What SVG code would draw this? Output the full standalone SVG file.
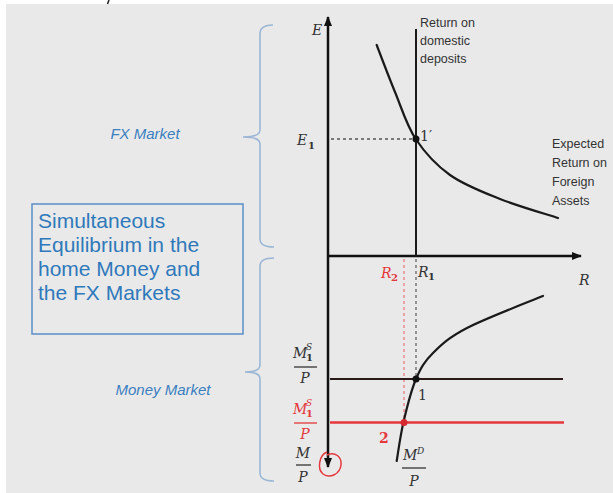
<svg xmlns="http://www.w3.org/2000/svg" width="613" height="493" viewBox="0 0 613 493">
<defs>
<style>
.ax{stroke:#111;stroke-width:2.5;fill:none}
.ln{stroke:#1a1a1a;stroke-width:2;fill:none}
.crv{stroke:#1a1a1a;stroke-width:2.2;fill:none;stroke-linecap:round}
.red{stroke:#e5373c;fill:none}
.brace{stroke:#9cb6d6;stroke-width:1.6;fill:none}
.m{font-family:"DejaVu Serif","Liberation Serif",serif;font-style:italic;fill:#333}
.n{font-family:"DejaVu Serif","Liberation Serif",serif;fill:#333}
.s{font-family:"Liberation Sans","Open Sans",sans-serif;fill:#333;font-size:12.5px}
.bl{font-family:"Liberation Sans","Open Sans",sans-serif;fill:#3a7fc0;font-style:italic;font-size:15px}
.box{font-family:"Liberation Sans","Open Sans",sans-serif;fill:#2f79bb;font-size:21px}
.rt{fill:#e5373c}
</style>
<marker id="ah" viewBox="0 0 10 10" refX="9" refY="5" markerWidth="4" markerHeight="4" orient="auto"><path d="M0,1 L10,5 L0,9 Z" fill="#111"/></marker>
</defs>
<rect x="0" y="0" width="613" height="493" fill="#ffffff"/>
<rect x="6" y="4" width="607" height="489" fill="#e9e9e9"/>
<line x1="109" y1="0" x2="107.5" y2="4" stroke="#222" stroke-width="1.5"/>

<g id="braces">
<path class="brace" d="M273,25 Q260,25 260,34 L260,130 Q260,137 243,137 Q260,137 260,144 L260,239 Q260,247 274,247"/>
<path class="brace" d="M274,258 Q260,258 260,266 L260,365 Q260,372 245,372 Q260,372 260,379 L260,473 Q260,481 274,481"/>
</g>
<g id="fx-label"><text class="bl" x="145" y="139" text-anchor="middle">FX Market</text></g>
<g id="mm-label"><text class="bl" x="163" y="395" text-anchor="middle">Money Market</text></g>

<g id="summary-box">
<rect x="32" y="204" width="211" height="130" fill="none" stroke="#5b8fc7" stroke-width="1.5"/>
<text class="box" x="38" y="228">Simultaneous</text>
<text class="box" x="38" y="252">Equilibrium in the</text>
<text class="box" x="38" y="276">home Money and</text>
<text class="box" x="38" y="300">the FX Markets</text>
</g>

<g id="connectors">
<line class="ax" x1="328" y1="256" x2="328" y2="17" marker-end="url(#ah)"/>
<line class="ax" x1="328" y1="256" x2="328" y2="467" marker-end="url(#ah)"/>
<line class="ax" x1="328" y1="256" x2="581" y2="256" marker-end="url(#ah)"/>
<line class="ln" x1="416" y1="29" x2="416" y2="256"/>
<line x1="331" y1="139" x2="416" y2="139" stroke="#555" stroke-width="1.3" stroke-dasharray="3,3"/>
<line x1="416" y1="259" x2="416" y2="379" stroke="#666" stroke-width="1.3" stroke-dasharray="3,3"/>
<line x1="404" y1="259" x2="404" y2="422" stroke="#ee7a80" stroke-width="1.3" stroke-dasharray="3,3"/>
<path class="crv" d="M376.7,45 C379.7,52.8 388.5,76.3 395,92 C401.5,107.7 406.5,125.2 415.7,139 C424.9,152.8 436,165 450,175 C464,185 482,191.8 500,199 C518,206.2 548.3,214.8 558,218"/>
<line x1="330" y1="379" x2="563" y2="379" stroke="#2a1a1a" stroke-width="2"/>
<line x1="330" y1="422.5" x2="564" y2="422.5" stroke="#e5373c" stroke-width="2.5"/>
<path class="crv" d="M396.7,461 C397.8,454.5 400.3,435.7 403.5,422 C406.7,408.3 411.1,390.5 416,379 C420.9,367.5 424.5,361.5 433,353 C441.5,344.5 448.7,337.5 467,328 C485.3,318.5 530.3,301.3 543,296"/>
<path class="red" stroke-width="1.5" d="M327,452 C319,455 317,469 323,474 C330,479 340,474 341,465 C342,457 335,451 327,455"/>
</g>

<g id="pt1p"><circle cx="416" cy="139" r="3.5" fill="#111"/><text class="n" x="420" y="141" font-size="14">1′</text></g>
<g id="pt1"><circle cx="416" cy="379" r="3.5" fill="#111"/><text class="n" x="418" y="400" font-size="14">1</text></g>
<g id="pt2"><circle cx="404" cy="422.5" r="3.5" fill="#d42a30"/><text class="n rt" x="379" y="443" font-size="14" font-weight="bold">2</text></g>

<g id="labels">
<text class="m" x="312" y="35" font-size="14">E</text>
<text class="m" x="297" y="145" font-size="14">E</text><text class="n" x="308" y="149" font-size="10" font-weight="bold">1</text>
<text class="m" x="418" y="277" font-size="14">R</text><text class="n" x="428" y="280" font-size="10" font-weight="bold">1</text>
<text class="m rt" x="381" y="278" font-size="14">R</text><text class="n rt" x="391" y="281" font-size="10" font-weight="bold">2</text>
<text class="m" x="579" y="285" font-size="14">R</text>
<text class="s" x="420" y="27">Return on</text>
<text class="s" x="420" y="45">domestic</text>
<text class="s" x="420" y="63">deposits</text>
<text class="s" x="552" y="148">Expected</text>
<text class="s" x="552" y="167">Return on</text>
<text class="s" x="552" y="186">Foreign</text>
<text class="s" x="552" y="205">Assets</text>
</g>

<g id="frac-ms1">
<text class="m" x="293" y="358" font-size="14">M</text><text class="m" x="306" y="350" font-size="9">S</text><text class="n" x="306" y="361" font-size="10" font-weight="bold">1</text>
<line x1="294" y1="367" x2="317" y2="367" stroke="#333" stroke-width="1.3"/>
<text class="m" x="305" y="383" font-size="14" text-anchor="middle">P</text>
</g>
<g id="frac-ms2">
<text class="m rt" x="293" y="414" font-size="14">M</text><text class="m rt" x="306" y="406" font-size="9">S</text><text class="n rt" x="306" y="417" font-size="10" font-weight="bold">1</text>
<line x1="294" y1="423" x2="317" y2="423" stroke="#e5373c" stroke-width="1.3"/>
<text class="m rt" x="305" y="439" font-size="14" text-anchor="middle">P</text>
</g>
<g id="frac-mp">
<text class="m" x="303" y="458" font-size="14" text-anchor="middle">M</text>
<line x1="296" y1="465" x2="311" y2="465" stroke="#333" stroke-width="1.3"/>
<text class="m" x="303" y="482" font-size="14" text-anchor="middle">P</text>
</g>
<g id="frac-md">
<text class="m" x="403" y="460" font-size="14">M</text><text class="m" x="417" y="454" font-size="9">D</text>
<line x1="402" y1="468" x2="426" y2="468" stroke="#333" stroke-width="1.3"/>
<text class="m" x="414" y="486" font-size="14" text-anchor="middle">P</text>
</g>
</svg>
